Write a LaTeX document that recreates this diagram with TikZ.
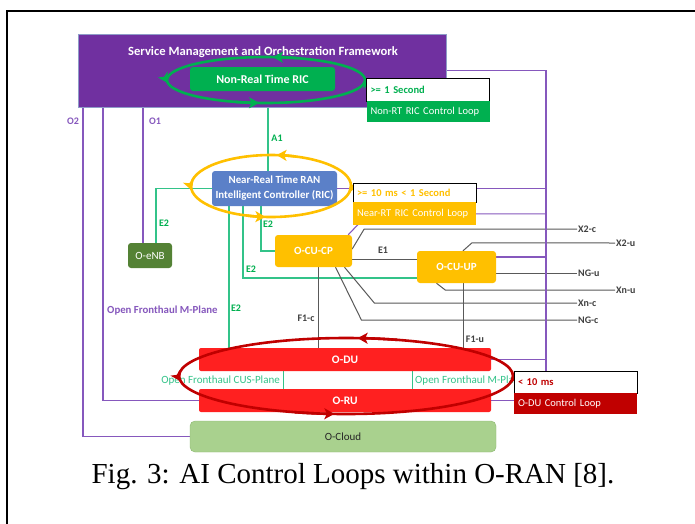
\documentclass[tikz,border=0pt]{standalone}
\usepackage{fontspec}
\setmainfont{Carlito}
\newfontfamily\capfont{Liberation Serif}
\usetikzlibrary{arrows.meta,calc}
\definecolor{smopurple}{HTML}{7030A0}
\definecolor{smoedge}{HTML}{8E9CC8}
\definecolor{nrtgreen}{HTML}{00B050}
\definecolor{ricblue}{HTML}{5B80C8}
\definecolor{enbgreen}{HTML}{548235}
\definecolor{cuorange}{HTML}{FFC000}
\definecolor{odured}{HTML}{FF2020}
\definecolor{darkred}{HTML}{C00000}
\definecolor{cloudgreen}{HTML}{A9D18E}
\definecolor{cloudedge}{HTML}{8DB870}
\definecolor{lnpurple}{HTML}{8658BD}
\definecolor{lngreen}{HTML}{33C389}
\definecolor{lngray}{HTML}{595959}
\definecolor{txgray}{HTML}{404040}
\pgfdeclarelayer{backlayer}
\pgfdeclarelayer{linelayer}
\pgfsetlayers{backlayer,linelayer,main}
\newcommand\loopring[4]{%
  \draw[draw=#4, line width=2.6pt] (#1) ellipse [x radius=#2, y radius=#3];
  \foreach \t [evaluate=\t as \s using \t-14] in {6,86,188,266}{
    \draw[draw=#4, fill=#4, line width=2.6pt, -{Stealth[length=10pt,width=11pt,inset=2.5pt]}]
      (#1) ++(\s:#2 and #3) arc[start angle=\s, end angle=\t, x radius=#2, y radius=#3];
  }}
\begin{document}
\begin{tikzpicture}[x=1pt,y=-1pt,
  box/.style={rectangle, rounded corners=3pt, inner sep=0pt, align=center, text=white},
  lbl/.style={font=\bfseries\fontsize{10}{12}\selectfont, inner sep=1pt},
  pline/.style={draw=lnpurple, line width=1.1pt},
  gline/.style={draw=lngreen, line width=1.1pt},
  kline/.style={draw=lngray, line width=1pt},
  infotop/.style={rectangle, draw=black, line width=0.6pt, fill=white, inner sep=0pt, minimum width=123pt, text width=115pt, align=left, font=\bfseries\fontsize{10.5}{12}\selectfont},
  infobot/.style={rectangle, inner sep=0pt, minimum width=123pt, text width=115pt, align=left, text=white, font=\fontsize{10.5}{12}\selectfont}
]
\useasboundingbox (0,0) rectangle (695,523);
\clip (0,0) rectangle (695,523);
\begin{pgfonlayer}{backlayer}
\fill[white] (0,0) rectangle (695,523);
\draw[line width=2pt] (7,540) -- (7,11) -- (710,11);
\end{pgfonlayer}

% column / row helper coordinates
\coordinate (xA1) at (268,0);
\coordinate (xO1) at (143,0);
\coordinate (xO2) at (83,0);
\coordinate (xMP) at (103,0);
\coordinate (xE2a) at (156,0);
\coordinate (xE2b) at (229,0);
\coordinate (xE2c) at (243,0);
\coordinate (xE2d) at (261,0);
\coordinate (xF1c) at (318,0);
\coordinate (xF1u) at (463,0);
\coordinate (xR) at (546,0);
\coordinate (xS1) at (283,0);
\coordinate (xS2) at (412,0);
\coordinate (yE2c) at (0,278);
\coordinate (yE1) at (0,259);
\coordinate (gC) at (266,80);
\coordinate (oC) at (271,186);
\coordinate (rC) at (346,376);

% boxes
\node[box, fill=smopurple, draw=smoedge, line width=0.6pt, rounded corners=0pt, minimum width=368pt, minimum height=73pt] (smo) at (262,70.5) {};
\node[font=\bfseries\fontsize{12.6}{14}\selectfont, text=white, inner sep=0pt] (smot) at (263,52) {Service Management and Orchestration Framework};
\node[box, fill=nrtgreen, minimum width=145pt, minimum height=24pt, font=\bfseries\fontsize{12}{14}\selectfont] (nrt) at (262.5,79) {Non-Real Time RIC};
\node[box, fill=ricblue, minimum width=125pt, minimum height=35pt, font=\bfseries\fontsize{10.9}{15}\selectfont] (ric) at (274.5,188.5) {Near-Real Time RAN\\Intelligent Controller (RIC)};
\node[box, fill=enbgreen, minimum width=44pt, minimum height=25pt, font=\fontsize{11}{13}\selectfont] (enb) at (150,255.5) {O-eNB};
\node[box, fill=cuorange, minimum width=77pt, minimum height=32pt, font=\bfseries\fontsize{11}{13}\selectfont] (cucp) at (313.5,251) {O-CU-CP};
\node[box, fill=cuorange, minimum width=79pt, minimum height=32pt, font=\bfseries\fontsize{11}{13}\selectfont] (cuup) at (456.5,267) {O-CU-UP};
\node[box, fill=odured, rounded corners=2pt, minimum width=292pt, minimum height=23pt, font=\bfseries\fontsize{11.5}{13}\selectfont] (odu) at (345,359.5) {O-DU};
\node[box, fill=odured, rounded corners=2pt, minimum width=292pt, minimum height=23pt, font=\bfseries\fontsize{11.5}{13}\selectfont] (oru) at (345,400.5) {O-RU};
\node[box, fill=cloudgreen, draw=cloudedge, rounded corners=5pt, minimum width=306pt, minimum height=31pt, text=black!85, font=\fontsize{11}{13}\selectfont] (ocloud) at (343,436.5) {O-Cloud};

% interface labels
\node[lbl, text=txgray, anchor=west] (lX2c) at (577,229) {X2-c};
\node[lbl, text=txgray, anchor=west] (lX2u) at (615,243) {X2-u};
\node[lbl, text=txgray, anchor=west] (lNGu) at (577,273) {NG-u};
\node[lbl, text=txgray, anchor=west] (lXnu) at (615,290) {Xn-u};
\node[lbl, text=txgray, anchor=west] (lXnc) at (577,303) {Xn-c};
\node[lbl, text=txgray, anchor=west] (lNGc) at (577,320) {NG-c};
\node[lbl, text=lnpurple] (lO2) at (73,121) {O2};
\node[lbl, text=lnpurple] (lO1) at (155,121) {O1};
\node[lbl, text=nrtgreen] (lA1) at (277,138) {A1};
\node[lbl, text=nrtgreen] (lE2a) at (164,223) {E2};
\node[lbl, text=nrtgreen] (lE2d) at (268,224) {E2};
\node[lbl, text=nrtgreen] (lE2c) at (251,269) {E2};
\node[lbl, text=nrtgreen] (lE2b) at (236,308) {E2};
\node[lbl, text=txgray] (lE1) at (383,250) {E1};
\node[lbl, text=txgray] (lF1c) at (306,318) {F1-c};
\node[lbl, text=txgray] (lF1u) at (475,339) {F1-u};
\node[lbl, text=lnpurple, anchor=west, font=\bfseries\fontsize{10.8}{12}\selectfont] (lMP) at (106,311) {Open Fronthaul M-Plane};
\node[text=lngreen, anchor=east, inner sep=1pt, font=\fontsize{11}{13}\selectfont] (lCUS) at (281,381) {Open Fronthaul CUS-Plane};
\begin{scope}
\clip (413,372) rectangle (514,390);
\node[text=lngreen, anchor=west, inner sep=1pt, font=\fontsize{11}{13}\selectfont] (lMP2) at (414,381) {Open Fronthaul M-Plane};
\end{scope}

% connectors (under boxes)
\begin{pgfonlayer}{linelayer}
\draw[gline] (nrt.south -| xA1) -- (ric.north -| xA1);
\draw[pline] (smo.south -| xO1) -- (enb.north -| xO1);
\draw[pline] (smo.south -| xO2) |- (ocloud.west);
\draw[pline] (smo.south -| xMP) |- (oru.west);
\draw[gline] (enb.north -| xE2a) |- (ric.west);
\draw[gline] (ric.south -| xE2b) -- (odu.north -| xE2b);
\draw[gline] (ric.south -| xE2c) |- (cuup.west |- yE2c);
\draw[gline] (ric.south -| xE2d) |- (cucp.west);
\draw[kline] (cucp.east |- yE1) -- (cuup.west |- yE1);
\draw[kline] (cucp.south -| xF1c) -- (odu.north -| xF1c);
\draw[kline] (cuup.south -| xF1u) -- (odu.north -| xF1u);
\draw[kline] ([yshift=2pt]cucp.east) -- ++(12,-20) -- (lX2c.west);
\draw[kline] ([xshift=31pt]cucp.south) -- ++(30,36) -- (lXnc.west);
\draw[kline] ([xshift=22pt]cucp.south) -- ++(26,53) -- (lNGc.west);
\draw[kline] ([xshift=6.5pt]cuup.north) -- ++(9,-8) -- (lX2u.west);
\draw[kline] ([yshift=-6pt]cuup.east) -- (lNGu.west);
\draw[kline] ([xshift=-20pt]cuup.south) -- ++(9,7) -- (lXnu.west);
\draw[pline] (smo.east) -| (oru.east -| xR) -- (oru.east);
\draw[pline] (ric.east) -- (ric.east -| xR);
\draw[pline] ([xshift=-4pt]cucp.north east) -- ++(20,-21) coordinate (cpb) -- (cpb -| xR);
\draw[pline] ([yshift=10pt]cuup.east) -- ([yshift=10pt]cuup.east -| xR);
\draw[pline] (odu.east) -- (odu.east -| xR);
\draw[draw=lngreen, line width=0.7pt] (odu.south -| xS1) -- (oru.north -| xS1);
\draw[draw=lngreen, line width=0.7pt] (odu.south -| xS2) -- (oru.north -| xS2);
\end{pgfonlayer}

% control loops
\loopring{gC}{99pt}{23pt}{nrtgreen}
\loopring{oC}{80pt}{31pt}{cuorange}
\loopring{rC}{167pt}{38pt}{darkred}

% info boxes
\node[infotop, minimum height=23pt, text=nrtgreen] (nrtA) at (428,89.5) {>= 1 Second};
\node[infobot, fill=nrtgreen, minimum height=21pt] (nrtB) at (428,111.5) {Non-RT RIC Control Loop};
\node[infotop, minimum height=19pt, text=cuorange] (nearA) at (414.5,192.5) {>= 10 ms < 1 Second};
\node[infobot, fill=cuorange, minimum height=23pt] (nearB) at (414.5,213.5) {Near-RT RIC Control Loop};
\node[infotop, minimum height=22pt, text=darkred] (duA) at (575.5,382) {< 10 ms};
\node[infobot, fill=darkred, minimum height=21pt] (duB) at (575.5,403.5) {O-DU Control Loop};

% caption
\node[font=\capfont\fontsize{29}{34}\selectfont, anchor=base, inner sep=0pt] (cap) at (353,483) {Fig. 3: AI Control Loops within O-RAN [8].};
\end{tikzpicture}
\end{document}
